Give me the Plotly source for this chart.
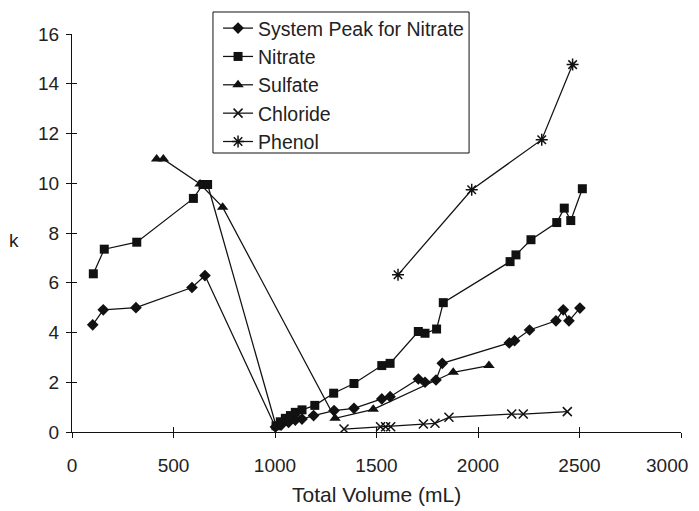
import plotly.graph_objects as go

# ---- data ----
sys_x = [102, 154, 315, 591, 655, 1002, 1030, 1067, 1100, 1133, 1190, 1291, 1389,
         1526, 1567, 1706, 1739, 1793, 1824, 2154, 2180, 2254, 2384, 2420, 2448, 2502]
sys_y = [4.31, 4.91, 5.0, 5.81, 6.29, 0.2, 0.28, 0.39, 0.48, 0.52, 0.66, 0.86, 0.95,
         1.33, 1.42, 2.13, 2.0, 2.09, 2.76, 3.58, 3.67, 4.1, 4.47, 4.91, 4.47, 4.98]

nitrate_x = [105, 159, 319, 598, 645, 668, 1005, 1026, 1051, 1076, 1100, 1133, 1196,
             1289, 1389, 1526, 1567, 1706, 1739, 1796, 1829, 2158, 2187, 2261, 2388,
             2425, 2457, 2514]
nitrate_y = [6.36, 7.35, 7.63, 9.39, 9.95, 9.95, 0.25, 0.41, 0.55, 0.66, 0.79, 0.89, 1.07,
             1.56, 1.95, 2.67, 2.76, 4.04, 3.97, 4.14, 5.2, 6.85, 7.12, 7.73, 8.42,
             9.0, 8.5, 9.78]

sulfate_x = [417, 450, 631, 742, 1296, 1484, 1878, 2054]
sulfate_y = [10.97, 10.97, 9.97, 9.04, 0.55, 0.91, 2.4, 2.67]

chloride_x = [1340, 1520, 1545, 1570, 1731, 1788, 1857, 2166, 2223, 2440]
chloride_y = [0.12, 0.21, 0.21, 0.21, 0.32, 0.35, 0.59, 0.72, 0.72, 0.82]

phenol_x = [1606, 1969, 2314, 2466]
phenol_y = [6.32, 9.74, 11.75, 14.77]

x_ticks = [0, 500, 1000, 1500, 2000, 2500, 3000]
x_tick_labels = ["0", "500", "1000", "1500", "2000", "2500", "3000"]
y_ticks = [0, 2, 4, 6, 8, 10, 12, 14, 16]

FONT = "Liberation Sans, Arial, sans-serif"
INK = "#111111"
TXT = "#222222"

series = [
    ("System Peak for Nitrate", sys_x, sys_y, dict(symbol="diamond", size=9, color=INK)),
    ("Nitrate", nitrate_x, nitrate_y, dict(symbol="square", size=9, color=INK)),
    ("Sulfate", sulfate_x, sulfate_y, dict(symbol="triangle-up", size=10, color=INK)),
    ("Chloride", chloride_x, chloride_y,
     dict(symbol="x-thin-open", size=9, color=INK, line=dict(width=1.5, color=INK))),
    ("Phenol", phenol_x, phenol_y,
     dict(symbol="asterisk-open", size=10, color=INK, line=dict(width=1.5, color=INK))),
]

fig = go.Figure()
for i, (name, xs, ys, mk) in enumerate(series):
    fig.add_trace(go.Scatter(
        x=xs, y=ys, name=name, mode="lines+markers",
        line=dict(color=INK, width=1.25), marker=mk,
        legendgroup=f"g{i}",
    ))

# dummy trace to draw the inner halves of the crossing ticks
fig.add_trace(go.Scatter(x=[0], y=[0], xaxis="x2", yaxis="y2", mode="markers",
                         marker=dict(opacity=0), showlegend=False, hoverinfo="skip"))

axis_common = dict(showgrid=False, zeroline=False, showline=True, linecolor=INK,
                   linewidth=1, ticks="outside", ticklen=5, tickcolor=INK, tickwidth=1,
                   automargin=False, ticklabeloverflow="allow",
                   tickfont=dict(family=FONT, size=19, color=TXT))

# last x tick label is right-aligned at its tick so it stays inside the window
shown_x_labels = x_tick_labels[:-1] + [""]

# the page body adds an 8px offset, so the figure is sized to the remaining window
fig.update_layout(
    width=691, height=503,
    margin=dict(l=64, r=18, t=26, b=79, autoexpand=False),
    paper_bgcolor="white", plot_bgcolor="white",
    font=dict(family=FONT, size=19, color=TXT),
    xaxis=dict(range=[0, 3000], tickvals=x_ticks, ticktext=shown_x_labels,
               ticklabelstandoff=11, **axis_common),
    yaxis=dict(range=[0, 16], tickvals=y_ticks, ticklabelstandoff=3, **axis_common),
    xaxis2=dict(range=[0, 3000], tickvals=x_ticks, overlaying="x", showgrid=False,
                zeroline=False, showline=False, ticks="inside", ticklen=5, tickcolor=INK,
                showticklabels=False, side="bottom", anchor="y2", automargin=False),
    yaxis2=dict(range=[0, 16], tickvals=y_ticks, overlaying="y", showgrid=False,
                zeroline=False, showline=False, ticks="inside", ticklen=5, tickcolor=INK,
                showticklabels=False, side="left", anchor="x2", automargin=False),
    legend=dict(x=0.2398, y=1.063, xanchor="left", yanchor="top",
                borderwidth=0, bgcolor="rgba(0,0,0,0)",
                font=dict(family=FONT, size=19.5, color=TXT),
                traceorder="grouped", tracegroupgap=0, itemwidth=30),
    showlegend=True,
    shapes=[dict(type="rect", xref="paper", yref="paper", x0=0.2315, x1=0.652,
                 y0=0.701, y1=1.0553, line=dict(color=INK, width=1),
                 fillcolor="white", layer="below")],
    annotations=[
        dict(text=x_tick_labels[-1], xref="x", yref="paper", x=x_ticks[-1], y=-0.083,
             xanchor="right", yanchor="middle", xshift=9, showarrow=False,
             font=dict(family=FONT, size=19, color=TXT)),
        dict(text="Total Volume (mL)", xref="paper", yref="paper", x=0.5, y=-0.158,
             xanchor="center", yanchor="middle", showarrow=False,
             font=dict(family=FONT, size=21, color=TXT)),
        dict(text="k", xref="paper", yref="paper", x=-0.095, y=0.482,
             xanchor="center", yanchor="middle", showarrow=False,
             font=dict(family=FONT, size=19, color=TXT)),
    ],
)

fig.write_html("out.html")
